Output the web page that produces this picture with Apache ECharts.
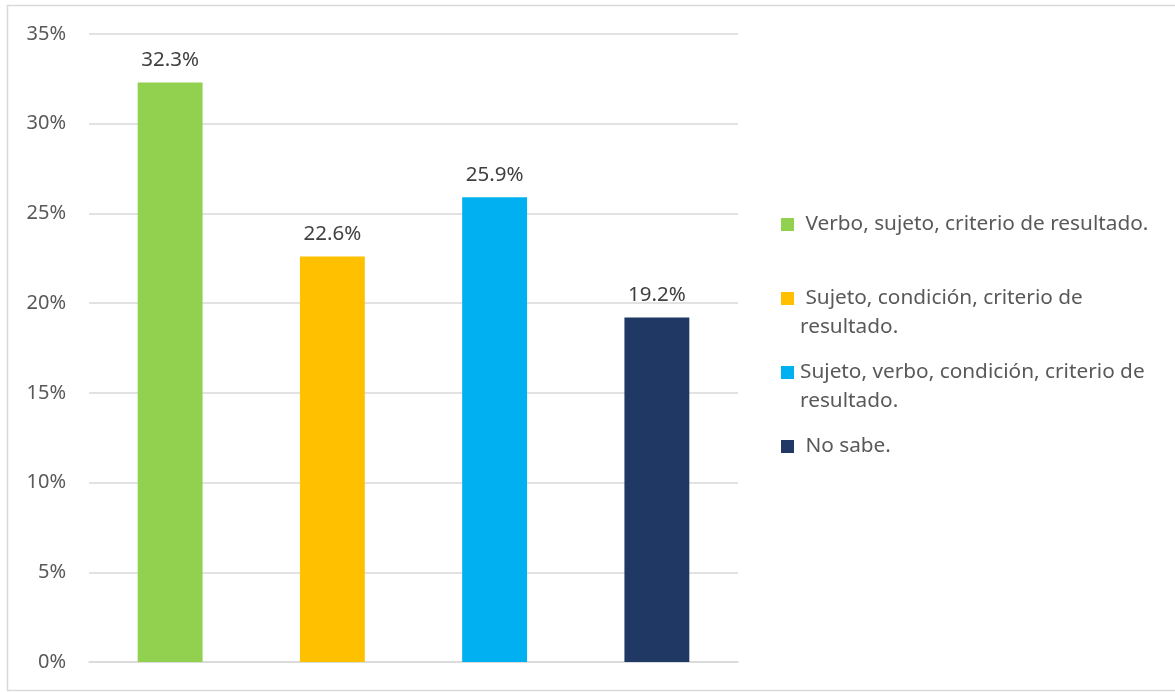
<!DOCTYPE html>
<html>
<head>
<meta charset="utf-8">
<script src="https://cdn.jsdelivr.net/npm/echarts@6/dist/echarts.min.js"></script>
<style>
  html, body { margin: 0; padding: 0; background: #fff; }
  #chart { width: 1175px; height: 692px; }
</style>
</head>
<body>
<div id="chart"></div>
<script>
// Response categories and their shares
const categories = [
  'Verbo, sujeto, criterio de resultado.',
  'Sujeto, condición, criterio de resultado.',
  'Sujeto, verbo, condición, criterio de resultado.',
  'No sabe.'
];
// Legend lines (how each category wraps in the key)
const legendLines = [
  [' Verbo, sujeto, criterio de resultado.', ''],
  [' Sujeto, condición, criterio de', 'resultado.'],
  ['Sujeto, verbo, condición, criterio de', 'resultado.'],
  [' No sabe.', '']
];
const values = [0.323, 0.226, 0.259, 0.192];
const colors = ['#92D050', '#FFC000', '#00B0F0', '#203864'];
const yTicks = { min: 0, max: 0.35, interval: 0.05 };

const FONT = '"Noto Sans", "Open Sans", sans-serif';
const chart = echarts.init(document.getElementById('chart'), null, { renderer: 'canvas' });

const rich = {
  t: { fontFamily: FONT, fontSize: 20.8, color: '#595959', lineHeight: 29, padding: [0, 0, 0, 6] },
  i: { width: 13, height: 1 }
};
colors.forEach((c, k) => {
  rich['m' + k] = { width: 13, height: 13, backgroundColor: c };
});

const series = categories.map((name, k) => ({
  name: name,
  type: 'bar',
  stack: 'one',
  barWidth: '40%',
  itemStyle: { color: colors[k] },
  data: categories.map((_, j) => (j === k ? values[k] : '-')),
  label: {
    show: true,
    position: 'top',
    distance: 12,
    fontFamily: FONT,
    fontSize: 20.5,
    color: '#404040',
    formatter: p => (p.value * 100).toFixed(1) + '%'
  }
}));

chart.setOption({
  animation: false,
  backgroundColor: '#fff',
  graphic: [{
    type: 'rect',
    shape: { x: 7.5, y: 5.5, width: 1180, height: 685 },
    style: { fill: 'none', stroke: '#D9D9D9', lineWidth: 1.5 },
    silent: true
  }],
  grid: { left: 89, right: 437, top: 34, bottom: 30 },
  xAxis: {
    type: 'category',
    data: categories,
    axisLine: { show: true, lineStyle: { color: '#D9D9D9', width: 1.5 } },
    axisTick: { show: false },
    axisLabel: { show: false }
  },
  yAxis: {
    type: 'value',
    min: yTicks.min,
    max: yTicks.max,
    interval: yTicks.interval,
    axisLine: { show: false },
    axisTick: { show: false },
    splitLine: { lineStyle: { color: '#D9D9D9', width: 1.5 } },
    axisLabel: {
      margin: 23,
      fontFamily: FONT,
      fontSize: 20,
      color: '#595959',
      formatter: v => Math.round(v * 100) + '%'
    }
  },
  legend: {
    orient: 'vertical',
    left: 771,
    top: 209,
    itemWidth: 0,
    itemHeight: 0,
    itemGap: 24,
    icon: 'rect',
    selectedMode: false,
    data: categories,
    textStyle: { rich: rich },
    formatter: name => {
      const k = categories.indexOf(name);
      const [a, b] = legendLines[k];
      return '{m' + k + '|}{t|' + a + '}\n{i|}{t|' + (b || ' ') + '}';
    }
  },
  series: series
});
</script>
</body>
</html>
